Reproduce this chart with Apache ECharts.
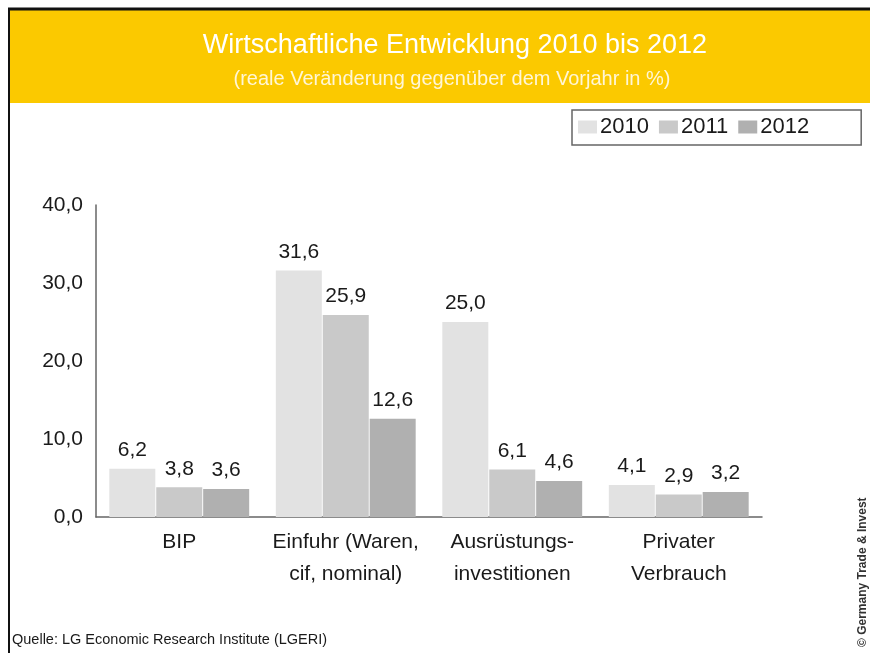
<!DOCTYPE html>
<html>
<head>
<meta charset="utf-8">
<script src="https://cdn.jsdelivr.net/npm/echarts@6/dist/echarts.min.js"></script>
<style>html,body{margin:0;padding:0;background:#fff;}#c{width:870px;height:653px;}</style>
</head>
<body>
<div id="c"></div>
<script>
const categories = ['BIP', 'Einfuhr (Waren,\ncif, nominal)', 'Ausrüstungs-\ninvestitionen', 'Privater\nVerbrauch'];
const years = ['2010', '2011', '2012'];
const values2010 = [6.2, 31.6, 25.0, 4.1];
const values2011 = [3.8, 25.9, 6.1, 2.9];
const values2012 = [3.6, 12.6, 4.6, 3.2];
const yTicks = [0, 10, 20, 30, 40];

const colors = ['#e2e2e2', '#c9c9c9', '#b0b0b0'];
const fmt = v => v.toFixed(1).replace('.', ',');
const font = 'Liberation Sans, Arial, sans-serif';

const chart = echarts.init(document.getElementById('c'));
const series = [values2010, values2011, values2012].map((d, i) => ({
  name: years[i],
  type: 'bar',
  data: d,
  barGap: '2%',
  barCategoryGap: '16%',
  itemStyle: { color: colors[i] },
  label: {
    show: true, position: 'top', distance: 8,
    formatter: p => fmt(p.value),
    color: '#1a1a1a', fontSize: 21, fontFamily: font
  }
}));

chart.setOption({
  animation: false,
  backgroundColor: '#ffffff',
  title: [{
    text: 'Wirtschaftliche Entwicklung 2010 bis 2012',
    left: 450, top: 27, textAlign: 'center',
    textStyle: { color: '#ffffff', fontSize: 27, fontWeight: 'normal', fontFamily: font }
  }, {
    text: '(reale Veränderung gegenüber dem Vorjahr in %)',
    left: 447, top: 64, textAlign: 'center',
    textStyle: { color: '#fff6d6', fontSize: 20, fontWeight: 'normal', fontFamily: font }
  }],
  legend: {
    data: years,
    left: 572, top: 110,
    padding: [6, 52, 7, 6],
    borderColor: '#666', borderWidth: 1.5,
    itemWidth: 19, itemHeight: 13, itemGap: 10,
    icon: 'rect',
    textStyle: { color: '#1a1a1a', fontSize: 22, fontFamily: font, padding: [0, 0, 0, -2] }
  },
  grid: { left: 96, right: 108, top: 205, bottom: 136 },
  xAxis: {
    type: 'category',
    data: categories,
    axisLine: { show: true, lineStyle: { color: '#666', width: 1.5 } },
    axisTick: { show: false },
    axisLabel: { color: '#1a1a1a', fontSize: 21, fontFamily: font, margin: 9, lineHeight: 32, interval: 0 }
  },
  yAxis: {
    type: 'value',
    min: 0, max: 40, interval: 10,
    axisLine: { show: true, lineStyle: { color: '#666', width: 1.5 } },
    axisTick: { show: false },
    splitLine: { show: false },
    axisLabel: { color: '#1a1a1a', fontSize: 21, fontFamily: font, margin: 13, formatter: v => fmt(v) }
  },
  series: series,
  graphic: [
    { type: 'rect', shape: { x: 10, y: 10, width: 860, height: 93 }, style: { fill: '#fbc900' }, z: -10 },
    { type: 'line', shape: { x1: 8, y1: 9, x2: 870, y2: 9 }, style: { stroke: '#111', lineWidth: 3 }, z: 10 },
    { type: 'line', shape: { x1: 9, y1: 8, x2: 9, y2: 653 }, style: { stroke: '#111', lineWidth: 2 }, z: 10 },
    { type: 'text', left: 12, top: 632, style: { text: 'Quelle: LG Economic Research Institute (LGERI)', fill: '#1a1a1a', font: '14.5px ' + font } },
    { type: 'text', x: 857, y: 647, rotation: Math.PI / 2, style: { text: '© Germany Trade & Invest', fill: '#333', font: 'bold 12px ' + font } }
  ]
});
</script>
</body>
</html>
